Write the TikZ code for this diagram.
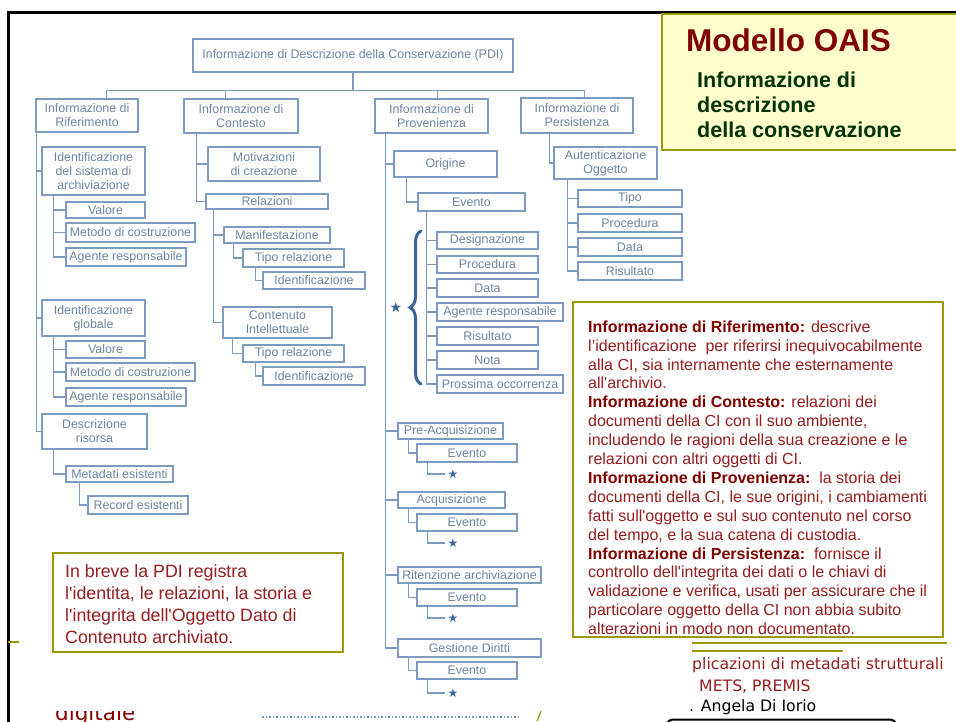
\documentclass[tikz,border=0pt]{standalone}
\usepackage{fontspec}
\setmainfont{Liberation Sans}[Ligatures=TeXOff]
\newfontfamily\dejavu{DejaVu Sans}[Ligatures=TeXOff]
\usetikzlibrary{decorations.pathreplacing,calc}
\definecolor{linec}{RGB}{125,155,192}
\definecolor{txtc}{RGB}{110,133,163}
\definecolor{brc}{RGB}{60,100,150}
\definecolor{olv}{RGB}{153,153,0}
\definecolor{ylw}{RGB}{255,255,204}
\definecolor{dred}{RGB}{128,0,0}
\definecolor{tred}{RGB}{150,30,30}
\definecolor{dgreen}{RGB}{0,51,0}
\newcommand{\mybox}[6]{\node[bx,minimum width={#4-#2},minimum height={#5-#3}] (#1) at ({(#2+#4)/2},{(#3+#5)/2}) {#6};}
\tikzset{
  bx/.style={draw=linec, line width=1.2pt, fill=white, inner sep=0pt, text=txtc, align=center, font=\fontsize{12.4}{14}\selectfont},
  conn/.style={draw=linec, line width=1.3pt},
  starnode/.style={text=brc, inner sep=0pt, font=\dejavu\fontsize{12}{12}\selectfont},
  infobox/.style={draw=olv, line width=2pt, fill=white, inner sep=0pt}
}
\begin{document}
\begin{tikzpicture}[x=1pt,y=-1pt]
\useasboundingbox (0,0) rectangle (956,722);
\fill[white] (0,0) rectangle (956,722);

% ---------- boxes ----------
\mybox{rt}{193}{39}{513}{72}{Informazione di Descrizione della Conservazione (PDI)}
\mybox{rif}{36}{99}{138}{132}{Informazione di\\Riferimento}
\mybox{con}{184}{99}{298}{133}{Informazione di\\Contesto}
\mybox{pro}{375}{99}{488}{133}{Informazione di\\Provenienza}
\mybox{per}{521}{98}{633}{133}{Informazione di\\Persistenza}
% Riferimento
\mybox{isa}{42}{147}{145}{195}{Identificazione\\del sistema di\\archiviazione}
\mybox{va}{66}{202}{145}{218}{Valore}
\mybox{ma}{66}{223}{195}{242}{Metodo di costruzione}
\mybox{aa}{66}{248}{186}{266}{Agente responsabile}
\mybox{ig}{42}{300}{145}{336}{Identificazione\\globale}
\mybox{vb}{66}{341}{145}{358}{Valore}
\mybox{mb}{66}{363}{195}{381}{Metodo di costruzione}
\mybox{ab}{66}{388}{186}{406}{Agente responsabile}
\mybox{dr}{42}{414}{147}{449}{Descrizione\\risorsa}
\mybox{me}{66}{466}{173}{482}{Metadati esistenti}
\mybox{re}{88}{496}{188}{514}{Record esistenti}
% Contesto
\mybox{mot}{208}{147}{320}{181}{Motivazioni\\di creazione}
\mybox{rel}{206}{194}{328}{209}{Relazioni}
\mybox{man}{224}{227}{330}{243}{Manifestazione}
\mybox{tra}{243}{249}{344}{267}{Tipo relazione}
\mybox{ida}{263}{272}{365}{289}{Identificazione}
\mybox{ci}{223}{307}{332}{338}{Contenuto\\Intellettuale}
\mybox{trb}{243}{345}{344}{362}{Tipo relazione}
\mybox{idb}{263}{367}{365}{385}{Identificazione}
% Provenienza
\mybox{ori}{394}{151}{497}{177}{Origine}
\mybox{evo}{418}{193}{525}{211}{Evento}
\mybox{des}{437}{232}{538}{249}{Designazione}
\mybox{prc}{437}{256}{538}{273}{Procedura}
\mybox{dat}{437}{279}{538}{297}{Data}
\mybox{agr}{437}{303}{563}{321}{Agente responsabile}
\mybox{ris}{437}{327}{538}{345}{Risultato}
\mybox{nota}{437}{351}{538}{369}{Nota}
\mybox{pos}{437}{375}{563}{393}{Prossima occorrenza}
\mybox{pa}{398}{423}{503}{439}{Pre-Acquisizione}
\mybox{eva}{417}{444}{517}{462}{Evento}
\mybox{acq}{398}{492}{505}{508}{Acquisizione}
\mybox{evb}{417}{514}{517}{531}{Evento}
\mybox{rit}{398}{567}{541}{583}{Ritenzione archiviazione}
\mybox{evc}{417}{589}{517}{606}{Evento}
\mybox{gd}{398}{639}{541}{657}{Gestione Diritti}
\mybox{evd}{417}{662}{517}{679}{Evento}
% Persistenza
\mybox{aut}{554}{147}{657}{179}{Autenticazione\\Oggetto}
\mybox{tip}{578}{190}{682}{207}{Tipo}
\mybox{prp}{578}{214}{682}{232}{Procedura}
\mybox{dtp}{578}{238}{682}{256}{Data}
\mybox{rsp}{578}{262}{682}{280}{Risultato}

\node[starnode] (sta) at (453,474) {★};
\node[starnode] (stb) at (453,543) {★};
\node[starnode] (stc) at (453,618) {★};
\node[starnode] (std) at (453,693) {★};
\node[starnode, font=\dejavu\fontsize{14}{14}\selectfont] (bst) at (396,307) {★};

% ---------- connectors ----------
\coordinate (hub) at ([yshift=-18pt]rt.south);
\draw[conn] (rt.south) -- (hub);
\draw[conn] ([xshift=71pt]rif.north west) |- (hub);
\draw[conn] ([xshift=42pt]con.north west) |- (hub);
\draw[conn] ([xshift=63pt]pro.north west) |- (hub);
\draw[conn] ([xshift=64pt]per.north west) |- (hub);

\foreach \c in {isa,ig,dr} \draw[conn] ([xshift=1pt]rif.south west) |- (\c.west);
\foreach \c in {va,ma,aa} \draw[conn] ([xshift=12pt]isa.south west) |- (\c.west);
\foreach \c in {vb,mb,ab} \draw[conn] ([xshift=12pt]ig.south west) |- (\c.west);
\draw[conn] ([xshift=12pt]dr.south west) |- (me.west);
\draw[conn] ([xshift=14pt]me.south west) |- (re.west);

\foreach \c in {mot,rel} \draw[conn] ([xshift=13pt]con.south west) |- (\c.west);
\foreach \c in {man,ci} \draw[conn] ([xshift=8pt]rel.south west) |- (\c.west);
\draw[conn] ([xshift=10pt]man.south west) |- (tra.west);
\draw[conn] ([xshift=13pt]tra.south west) |- (ida.west);
\draw[conn] ([xshift=10pt]ci.south west) |- (trb.west);
\draw[conn] ([xshift=13pt]trb.south west) |- (idb.west);

\foreach \c in {ori,pa,acq,rit,gd} \draw[conn] ([xshift=11pt]pro.south west) |- (\c.west);
\draw[conn] ([xshift=13pt]ori.south west) |- (evo.west);
\foreach \c in {des,prc,dat,agr,ris,nota,pos} \draw[conn] ([xshift=9pt]evo.south west) |- (\c.west);
\draw[conn] ([xshift=11pt]pa.south west) |- (eva.west);
\draw[conn] ([xshift=11pt]acq.south west) |- (evb.west);
\draw[conn] ([xshift=11pt]rit.south west) |- (evc.west);
\draw[conn] ([xshift=11pt]gd.south west) |- (evd.west);
\draw[conn] ([xshift=11pt]eva.south west) |- ([xshift=-2pt]sta.west);
\draw[conn] ([xshift=11pt]evb.south west) |- ([xshift=-2pt]stb.west);
\draw[conn] ([xshift=11pt]evc.south west) |- ([xshift=-2pt]stc.west);
\draw[conn] ([xshift=11pt]evd.south west) |- ([xshift=-2pt]std.west);

\draw[conn] ([xshift=29pt]per.south west) |- (aut.west);
\foreach \c in {tip,prp,dtp,rsp} \draw[conn] ([xshift=14pt]aut.south west) |- (\c.west);

% brace
\draw[brc, line width=3pt, line cap=round, decorate, decoration={brace, amplitude=11pt}] (421,384) -- (421,231);

% ---------- frame ----------
\draw[black, line width=3pt] (7,12.5) -- (956,12.5);
\draw[black, line width=2.7pt] (8.7,11) -- (8.7,722);

% ---------- yellow title box ----------
\draw[fill=ylw, draw=olv, line width=1.5pt] (662,14) rectangle (962,150);
\node[anchor=base west, inner sep=0pt, text=dred, font=\bfseries\fontsize{31.5}{36}\selectfont] (ttl) at (686,52) {Modello OAIS};
\node[anchor=north west, inner sep=0pt, align=left, text=dgreen, font=\bfseries\fontsize{21.5}{25}\selectfont] (sub) at (697,71.5) {Informazione di\\descrizione\\della conservazione};

% ---------- right info box ----------
\node[infobox, minimum width=370, minimum height=335] (tb) at (758,469.5) {};
\node[anchor=north west, inner sep=0pt, align=left, text=tred, font=\fontsize{16}{18.9}\selectfont] (tbt) at (588,320.5) {%
\textbf{\color{dred}Informazione di Riferimento:} descrive\\
l’identificazione\ \ per riferirsi inequivocabilmente\\
alla CI, sia internamente che esternamente\\
all'archivio.\\
\textbf{\color{dred}Informazione di Contesto:} relazioni dei\\
documenti della CI con il suo ambiente,\\
includendo le ragioni della sua creazione e le\\
relazioni con altri oggetti di CI.\\
\textbf{\color{dred}Informazione di Provenienza:}\ \ la storia dei\\
documenti della CI, le sue origini, i cambiamenti\\
fatti sull'oggetto e sul suo contenuto nel corso\\
del tempo, e la sua catena di custodia.\\
\textbf{\color{dred}Informazione di Persistenza:}\ \ fornisce il\\
controllo dell'integrita dei dati o le chiavi di\\
validazione e verifica, usati per assicurare che il\\
particolare oggetto della CI non abbia subito\\
alterazioni in modo non documentato.};

% ---------- left info box ----------
\node[infobox, minimum width=290, minimum height=99] (lb) at (198,602.5) {};
\node[anchor=north west, inner sep=0pt, align=left, text=tred, font=\fontsize{17.8}{22}\selectfont] (lbt) at (65,564) {In breve la PDI registra\\l'identita, le relazioni, la storia e\\l'integrita dell'Oggetto Dato di\\Contenuto archiviato.};

% ---------- bottom remnants ----------
\draw[olv, line width=2pt] (8,642) -- (19,642);
\draw[olv, line width=2pt] (692,643) -- (947,643);
\draw[olv, line width=2pt] (692,651) -- (843,651);
\node[anchor=base west, inner sep=0pt, text=tred, font=\dejavu\fontsize{15.7}{18}\selectfont] (b1) at (692,669) {plicazioni di metadati strutturali};
\node[anchor=base west, inner sep=0pt, text=tred, font=\dejavu\fontsize{15.7}{18}\selectfont] (b2) at (699,691) {METS, PREMIS};
\node[anchor=base west, inner sep=0pt, text=black, font=\dejavu\fontsize{15.7}{18}\selectfont] (b3) at (689,711) {. Angela Di Iorio};
\draw[black, line width=2pt, rounded corners=6pt] (667,730) -- (667,719.5) -- (896,719.5) -- (896,730);
\begin{scope}
\clip (0,711) rectangle (956,722);
\node[anchor=base west, inner sep=0pt, text=dred, font=\dejavu\fontsize{21.5}{24}\selectfont] (dg) at (55,720) {digitale};
\end{scope}
\draw[linec, dotted, line width=1.5pt] (262,717) -- (520,717);
\draw[olv, line width=1.2pt] (537,721) -- (541,711);
\end{tikzpicture}
\end{document}
